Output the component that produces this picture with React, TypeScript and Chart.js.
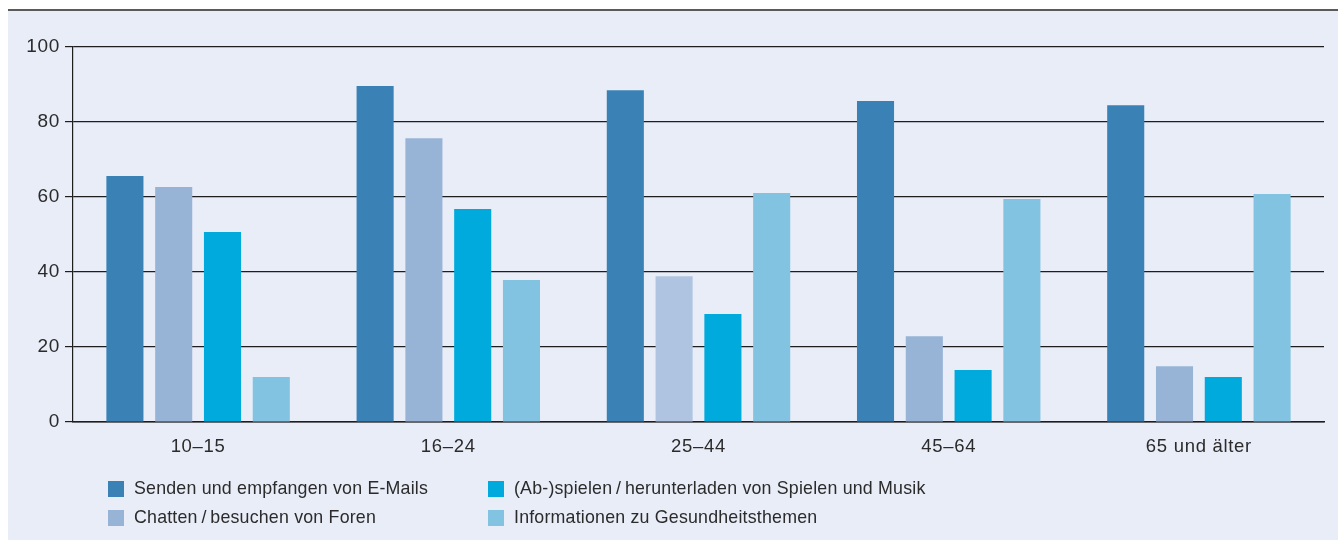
import React, { useEffect, useRef } from "react";
import { Chart, registerables } from "chart.js";

Chart.register(...registerables);

const categories = ["10–15", "16–24", "25–44", "45–64", "65 und älter"];
const seriesNames = [
  "Senden und empfangen von E-Mails",
  "Chatten\u2009/\u2009besuchen von Foren",
  "(Ab-)spielen\u2009/\u2009herunterladen von Spielen und Musik",
  "Informationen zu Gesundheitsthemen",
];
const emails = [65.6, 89.6, 88.5, 85.6, 84.5];
const chatten = [62.7, 75.7, 38.9, 22.9, 14.9];
const spielen = [50.7, 56.8, 28.8, 13.9, 12];
const gesundheit = [12, 37.9, 61.1, 59.5, 60.8];
const yTicks = [0, 20, 40, 60, 80, 100];

const colors = ["#3A82B5", "#97B4D7", "#00AADC", "#81C3E1"];
const chattenColors = ["#97B4D7", "#97B4D7", "#AFC4E1", "#97B4D7", "#97B4D7"];
const FONT = "'Liberation Sans', Arial, sans-serif";
const TEXT = "#2b2b2b";

const spacingPlugin = {
  id: "letterSpacing",
  beforeDraw(chart: any) {
    try {
      chart.ctx.letterSpacing = "0.7px";
    } catch (e) {}
  },
};

export default function App() {
  const ref = useRef<HTMLCanvasElement | null>(null);

  useEffect(() => {
    if (!ref.current) return;
    const values = [emails, chatten, spielen, gesundheit];
    const chart = new Chart(ref.current, {
      type: "bar",
      data: {
        labels: categories,
        datasets: values.map((v, i) => ({
          label: seriesNames[i],
          data: v,
          backgroundColor: i === 1 ? chattenColors : colors[i],
          borderWidth: 0,
          barPercentage: 0.76,
          categoryPercentage: 0.78,
        })),
      },
      plugins: [spacingPlugin],
      options: {
        animation: false,
        responsive: false,
        maintainAspectRatio: false,
        layout: { padding: { top: 36, right: 14, left: 0, bottom: 0 } },
        plugins: {
          legend: { display: false },
          tooltip: { enabled: false },
        },
        scales: {
          x: {
            grid: { display: false, drawTicks: false },
            border: { display: true, color: "#1e1e1e", width: 1.5 },
            ticks: {
              color: TEXT,
              font: { family: FONT, size: 18.5 },
              padding: 14,
              maxRotation: 0,
            },
            afterFit: (s: any) => {
              s.height = 118;
            },
          },
          y: {
            min: 0,
            max: 100,
            afterBuildTicks: (s: any) => {
              s.ticks = yTicks.map((v) => ({ value: v }));
            },
            grid: {
              color: "#1e1e1e",
              lineWidth: 1.2,
              drawTicks: true,
              tickLength: 8,
            },
            border: { display: true, color: "#1e1e1e", width: 1.2 },
            ticks: {
              color: TEXT,
              font: { family: FONT, size: 19 },
              padding: 5,
            },
            afterFit: (s: any) => {
              s.width = 65;
            },
          },
        },
      },
    });
    return () => chart.destroy();
  }, []);

  const legendOrder = [0, 2, 1, 3];

  return (
    <div
      style={{
        position: "absolute",
        left: 8,
        top: 9,
        width: 1330,
        height: 529,
        borderTop: "2px solid #5a5a5a",
        background: "#E9EDF8",
      }}
    >
      <canvas ref={ref} width={1330} height={529} style={{ display: "block" }} />
      <div
        style={{
          position: "absolute",
          left: 100,
          top: 465,
          display: "grid",
          gridTemplateColumns: "380px auto",
          rowGap: 4,
          fontFamily: FONT,
          fontSize: 17.8,
          letterSpacing: "0.2px",
          color: TEXT,
        }}
      >
        {legendOrder.map((i) => (
          <div
            key={i}
            style={{ display: "flex", alignItems: "center", height: 25 }}
          >
            <span
              style={{
                display: "inline-block",
                width: 16,
                height: 16,
                background: colors[i],
                marginRight: 10,
              }}
            />
            <span>{seriesNames[i]}</span>
          </div>
        ))}
      </div>
    </div>
  );
}
